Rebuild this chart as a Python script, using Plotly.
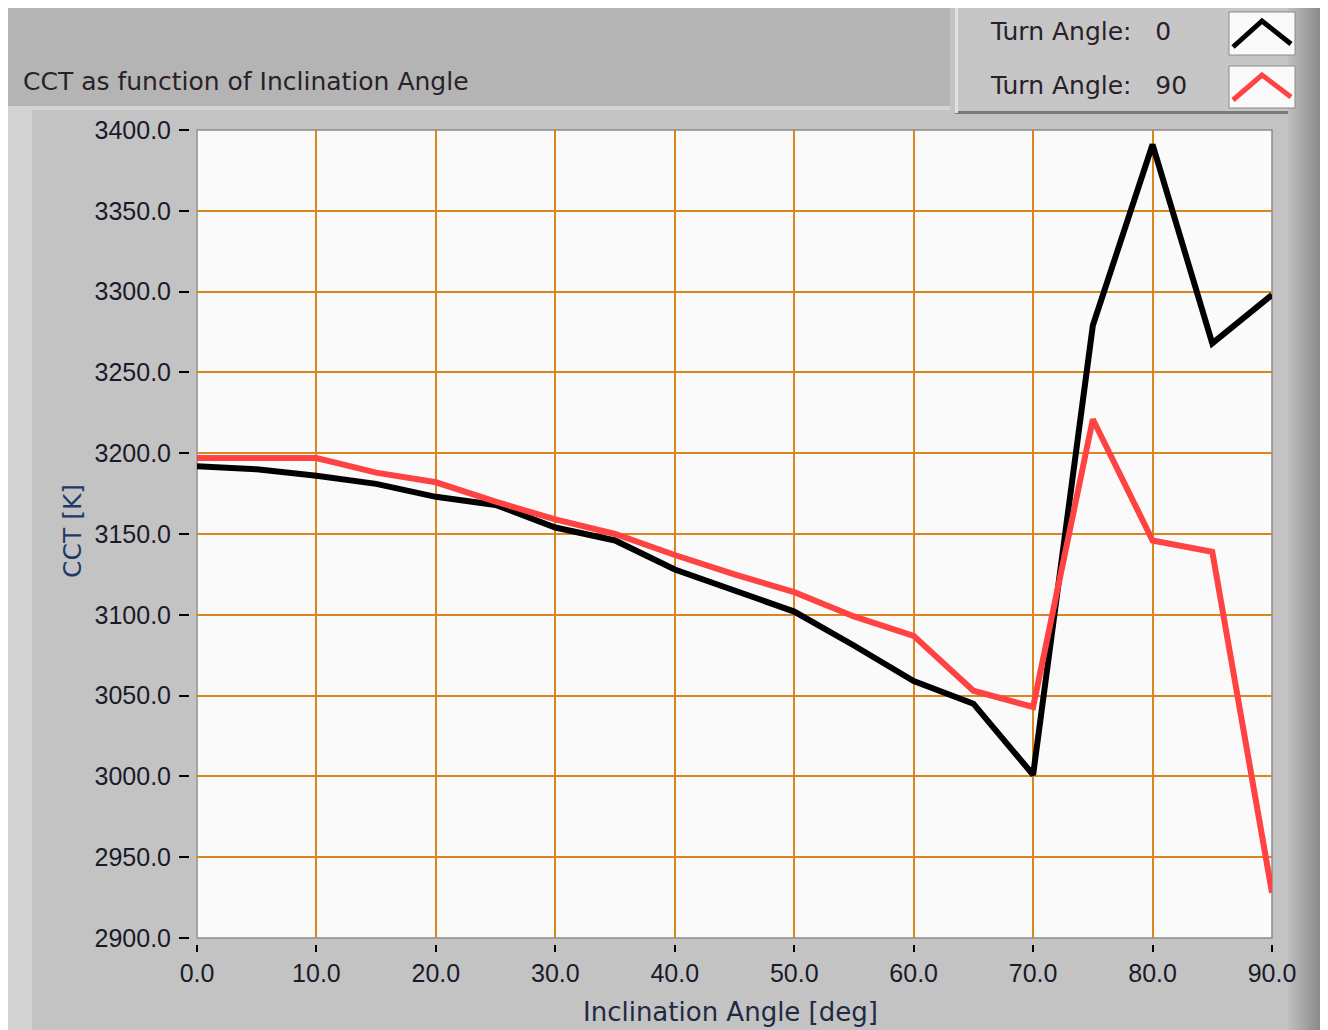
import plotly.graph_objects as go

# ---- data ----
inclination = [0, 5, 10, 15, 20, 25, 30, 35, 40, 45, 50, 55, 60, 65, 70, 75, 80, 85, 90]
cct_turn0 = [3192, 3190, 3186, 3181, 3173, 3168, 3154, 3146, 3128, 3115, 3102, 3081, 3059, 3045, 3001, 3279, 3391, 3268, 3298]
cct_turn90 = [3197, 3197, 3197, 3188, 3182, 3170, 3159, 3150, 3137, 3125, 3114, 3099, 3087, 3053, 3043, 3221, 3146, 3139, 2928]
series_names = ["Turn Angle:   0", "Turn Angle:   90"]
series_colors = ["#000000", "#ff4242"]
x_ticks = [0, 10, 20, 30, 40, 50, 60, 70, 80, 90]
y_ticks = [2900, 2950, 3000, 3050, 3100, 3150, 3200, 3250, 3300, 3350, 3400]
title_text = "CCT as function of Inclination Angle"
x_title = "Inclination Angle [deg]"
y_title = "CCT [K]"

# page offset (browser body margin) and window size
OFF = 8
WIN_W, WIN_H = 1328, 1030
L, R, T, B = 197, 1272, 130, 938  # plot area in window pixels


def px(x):
    return (x - L) / (R - L)


def py(y):
    return (B - y) / (B - T)


def rect(x0, y0, x1, y1, fill, line=None, lw=0, layer="below"):
    return dict(type="rect", xref="paper", yref="paper", layer=layer,
                x0=px(x0), x1=px(x1), y0=py(y1), y1=py(y0),
                fillcolor=fill, line=dict(color=line or fill, width=lw))


FRAME = "#c3c3c3"
shapes = []
# title panel
shapes.append(rect(4, 8, 950, 106, "#b4b4b4"))
shapes.append(rect(4, 106, 950, 110, "#d4d4d4"))
# left light strip
shapes.append(rect(0, 0, 5, WIN_H, "#ececec"))
shapes.append(rect(5, 110, 32, WIN_H, "#d2d2d2"))
# legend panel
shapes.append(rect(955, 6, 1320, 113, "#c6c6c6"))
shapes.append(rect(955, 111, 1320, 114, "#7a7a7a"))
shapes.append(rect(955, 6, 958, 113, "#e2e2e2"))
# right gradient
n = 14
for i in range(n):
    x0 = 1288 + i * (WIN_W - 1288) / n
    x1 = 1288 + (i + 1) * (WIN_W - 1288) / n
    g = int(0xc2 - (0xc2 - 0x80) * (i + 1) / n)
    shapes.append(rect(x0, 0, x1 + 0.5, WIN_H, "#%02x%02x%02x" % (g, g, g)))
# plot area frame
shapes.append(dict(type="rect", xref="paper", yref="paper", layer="below",
                   x0=0, x1=1, y0=0, y1=1, fillcolor="#fafafa",
                   line=dict(color="#8c8c8c", width=1.5)))
# small gaps between the axes and their tick marks
shapes.append(rect(185, 939, 1285, 945, FRAME, layer="above"))
shapes.append(rect(189, 120, 196.2, 945, FRAME, layer="above"))

# legend swatches (boxes + chevrons)
annotations = []
legend_rows = [(12, 55, 32), (66, 108, 86)]
for (y0, y1, yt), name, col in zip(legend_rows, series_names, series_colors):
    shapes.append(dict(type="rect", xref="paper", yref="paper",
                       x0=px(1229), x1=px(1295), y0=py(y1), y1=py(y0),
                       fillcolor="#fafafa", line=dict(color="#8a8a8a", width=1)))
    top = y0 + 9
    bot = y1 - 8
    path = "M %f %f L %f %f L %f %f" % (px(1233), py(bot), px(1262), py(top), px(1291), py(bot - 3))
    shapes.append(dict(type="path", xref="paper", yref="paper", path=path,
                       line=dict(color=col, width=5)))
    annotations.append(dict(xref="paper", yref="paper", x=px(988), y=py(yt),
                            xanchor="left", yanchor="middle", showarrow=False,
                            text=name, font=dict(family="DejaVu Sans", size=25, color="#2a1f2a")))

annotations.append(dict(xref="paper", yref="paper", x=px(21), y=py(82),
                        xanchor="left", yanchor="middle", showarrow=False, text=title_text,
                        font=dict(family="DejaVu Sans", size=25, color="#2a1f2a")))
annotations.append(dict(xref="paper", yref="paper", x=px(730), y=py(1012),
                        xanchor="center", yanchor="middle", showarrow=False, text=x_title,
                        font=dict(family="DejaVu Sans", size=26, color="#1f2a44")))
annotations.append(dict(xref="paper", yref="paper", x=px(72), y=py(531),
                        xanchor="center", yanchor="middle", showarrow=False, text=y_title,
                        textangle=-90,
                        font=dict(family="DejaVu Sans", size=25, color="#1f3a66")))

fig = go.Figure()
for yv, name, col in zip([cct_turn0, cct_turn90], series_names, series_colors):
    fig.add_trace(go.Scatter(x=inclination, y=yv, mode="lines", name=name,
                             line=dict(color=col, width=6), showlegend=False))

tick_font = dict(family="Liberation Sans", size=25, color="#1a1a2a")
fig.update_layout(
    width=WIN_W - OFF, height=WIN_H - OFF,
    margin=dict(l=L - OFF, r=WIN_W - R, t=T - OFF, b=WIN_H - B, pad=0),
    paper_bgcolor=FRAME,
    plot_bgcolor="rgba(0,0,0,0)",
    shapes=shapes,
    annotations=annotations,
    xaxis=dict(range=[0, 90], tickvals=x_ticks, tickformat=".1f",
               showgrid=True, gridcolor="#d8871f", gridwidth=2,
               ticks="outside", ticklen=13, tickwidth=2, tickcolor="#000000",
               tickfont=tick_font, zeroline=False, showline=False, fixedrange=True),
    yaxis=dict(range=[2900, 3400], tickvals=y_ticks, tickformat=".1f",
               showgrid=True, gridcolor="#d8871f", gridwidth=2,
               ticks="outside", ticklen=17, tickwidth=2, tickcolor="#000000",
               ticklabelstandoff=3,
               tickfont=tick_font, zeroline=False, showline=False, fixedrange=True),
)

fig.write_html("out.html")
